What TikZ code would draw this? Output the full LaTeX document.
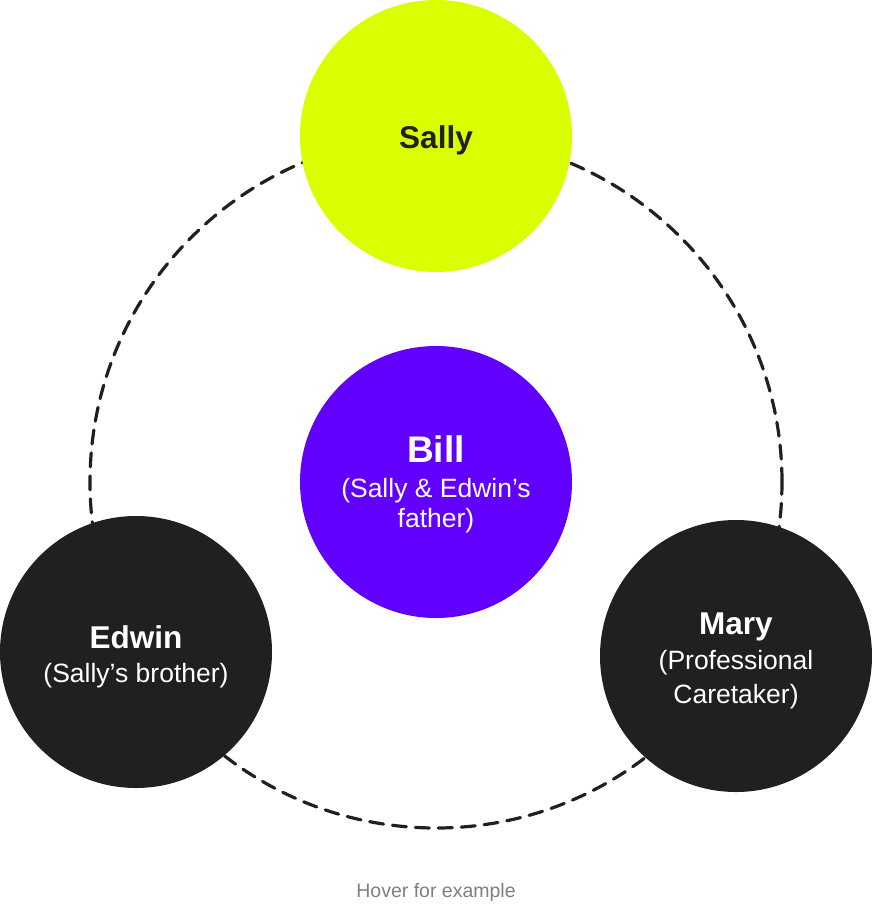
\documentclass[tikz,border=0pt]{standalone}
\usepackage{fontspec}
\setmainfont{Liberation Sans}
\usetikzlibrary{positioning,backgrounds}
\definecolor{lime}{HTML}{DAFF00}
\definecolor{violet}{HTML}{6100FF}
\definecolor{ink}{HTML}{202020}
\definecolor{hint}{HTML}{7F7F7F}
\newcommand{\who}[2][31.5]{{\rule{0pt}{32pt}\fontsize{#1}{34}\selectfont\bfseries #2}}
\begin{document}
\begin{tikzpicture}[x=1pt,y=-1pt,bubble/.style={circle,minimum size=272pt,inner sep=0pt,outer sep=0pt,align=center,font=\fontsize{26.5}{34.5}\selectfont},ring/.style={draw=ink,line width=3.2pt,dash pattern=on 14pt off 9pt,line cap=round}]
    \useasboundingbox (0,0) rectangle (872,906);
    %
    \node[bubble,fill=violet,text=white,font=\fontsize{26.5}{30.5}\selectfont](bill) at (436,482){\who[37]{Bill}\\[4pt](Sally \& Edwin’s\\father)};
    \node[bubble,fill=lime,text=ink,above=74pt of bill](sally){\who{Sally}};
    %
    \node[bubble,fill=ink,text=white](edwin) at (136,652){\who{Edwin}\\(Sally’s brother)};
    \node[bubble,fill=ink,text=white](mary) at (736,656){\who{Mary}\\(Professional\\Caretaker)};
    %
    \node[text=hint,font=\fontsize{19.5}{22}\selectfont](hover) at (436,892){Hover for example};
    %
    \begin{scope}[on background layer]
    \draw[ring] (bill.center) circle[radius=346pt];
    \end{scope}
    %
\end{tikzpicture}
\end{document}
